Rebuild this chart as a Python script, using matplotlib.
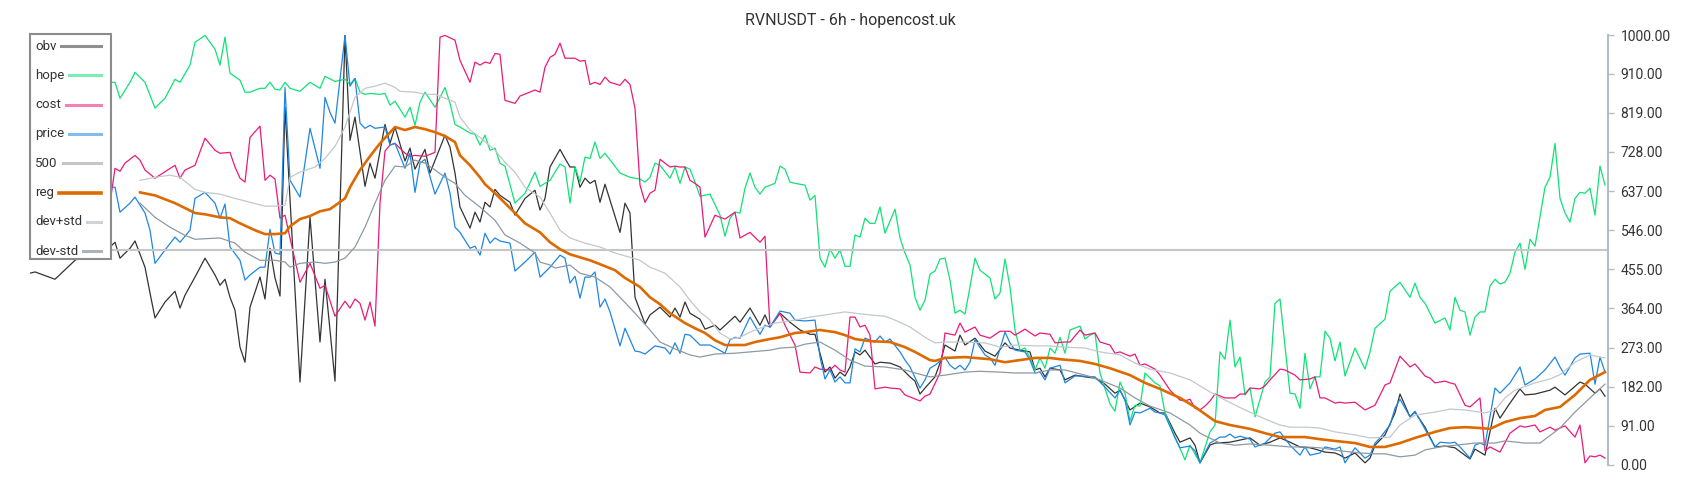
import matplotlib
matplotlib.use("Agg")
import matplotlib.pyplot as plt
from matplotlib.lines import Line2D
from matplotlib.patches import Rectangle

plt.rcParams['font.family'] = ['Roboto', 'DejaVu Sans']

# (candle index, value), 6h candles
obv = [(0,446),(1,449),(5,432),(9,476),(11,490),(13,500),(15,505),(16,507),(17,518),(18,481),(20,504),(21,521),(23,460),(24,400),(25,342),(27,379),(29,404),(30,365),(31,395),(33,437),(35,481),(37,442),(38,418),(39,432),(40,390),(41,360),(42,274),(43,239),(44,367),(46,437),(47,386),(48,504),(49,435),(50,393),(51,832),(54,193),(56,576),(58,286),(59,432),(61,195),(63,999),(64,755),(65,809),(67,648),(68,702),(69,667),(71,792),(72,748),(73,786),(75,707),(76,737),(77,688),(79,734),(80,679),(83,767),(84,739),(85,679),(86,600),(88,551),(89,588),(90,565),(91,611),(92,600),(93,641),(94,627),(96,611),(97,581),(99,620),(101,639),(102,593),(103,620),(104,693),(106,734),(107,713),(108,693),(109,693),(110,646),(111,667),(112,655),(113,662),(114,611),(115,653),(116,616),(118,541),(119,609),(120,586),(121,390),(123,328),(124,349),(126,367),(128,344),(129,365),(130,344),(131,379),(132,353),(134,339),(135,316),(137,325),(138,314),(141,346),(142,332),(144,365),(146,325),(147,349),(148,321),(150,353),(152,332),(154,314),(156,304),(157,304),(159,216),(160,228),(161,202),(162,216),(163,207),(164,228),(165,263),(166,256),(167,267),(169,235),(170,239),(172,237),(174,228),(176,205),(177,195),(178,165),(179,179),(181,205),(182,237),(183,279),(185,265),(186,302),(187,279),(189,295),(191,265),(193,253),(195,284),(196,272),(198,267),(200,263),(201,221),(202,225),(203,205),(204,225),(206,221),(207,198),(209,209),(211,205),(213,202),(215,188),(217,167),(218,174),(220,128),(222,144),(224,135),(226,121),(227,121),(229,74),(230,53),(232,63),(233,46),(234,5),(236,46),(237,51),(240,53),(242,58),(244,63),(246,46),(248,53),(250,63),(252,53),(254,42),(256,40),(257,37),(259,30),(261,28),(262,23),(263,16),(265,28),(267,5),(268,16),(269,46),(271,70),(273,121),(274,165),(276,112),(277,123),(279,88),(281,42),(283,44),(285,40),(288,14),(289,37),(291,23),(293,132),(294,109),(296,144),(298,177),(299,163),(301,165),(304,174),(305,181),(307,163),(310,193),(311,188),(313,167),(314,177),(315,160)]

hope = [(0,880),(3,900),(6,870),(9,905),(12,880),(14,895),(16,890),(17,890),(18,853),(20,890),(21,913),(23,890),(25,830),(27,853),(29,897),(30,890),(32,930),(33,983),(35,999),(37,967),(38,930),(39,995),(40,911),(42,895),(43,867),(44,867),(46,876),(47,876),(48,890),(49,874),(50,872),(51,890),(52,876),(54,869),(56,890),(58,876),(59,904),(61,892),(63,897),(64,885),(65,899),(66,867),(67,862),(68,864),(70,862),(71,864),(72,837),(73,846),(75,809),(76,832),(77,790),(78,844),(79,867),(81,832),(83,878),(84,841),(85,792),(86,786),(88,772),(89,769),(90,744),(91,767),(92,732),(93,737),(94,702),(95,695),(97,609),(99,632),(101,681),(102,648),(103,655),(104,662),(106,700),(107,693),(108,609),(109,693),(110,658),(111,716),(112,713),(113,751),(114,713),(115,725),(118,679),(120,669),(122,665),(123,658),(124,669),(125,702),(126,697),(128,667),(129,693),(130,655),(131,693),(132,688),(133,658),(134,625),(136,630),(138,581),(139,532),(140,574),(141,588),(142,586),(143,644),(144,679),(145,646),(146,630),(147,646),(149,655),(150,695),(151,688),(152,658),(153,655),(155,651),(156,616),(157,627),(158,481),(159,460),(160,502),(161,481),(162,500),(163,462),(164,462),(165,535),(166,530),(167,574),(168,562),(169,562),(170,600),(171,539),(173,595),(174,528),(175,493),(176,465),(177,390),(178,360),(179,383),(180,444),(181,451),(182,479),(183,481),(184,430),(185,353),(186,360),(187,351),(188,414),(189,481),(190,453),(192,435),(193,386),(194,400),(195,479),(196,414),(197,314),(198,267),(199,272),(200,249),(201,221),(202,249),(203,225),(204,272),(205,260),(206,297),(207,260),(208,314),(210,323),(211,293),(212,302),(213,307),(214,214),(216,142),(217,125),(218,193),(219,167),(220,102),(221,139),(222,137),(223,214),(225,191),(226,184),(227,121),(229,65),(231,12),(232,46),(234,5),(236,77),(237,93),(238,263),(239,246),(240,337),(241,228),(242,251),(243,163),(244,179),(245,112),(247,193),(248,205),(249,376),(250,386),(252,167),(253,165),(254,132),(255,260),(256,177),(257,205),(258,205),(259,311),(260,295),(261,242),(262,286),(263,207),(265,272),(267,223),(268,263),(269,318),(271,339),(272,404),(274,425),(276,390),(277,423),(278,390),(279,376),(281,330),(283,342),(284,314),(285,390),(286,360),(287,356),(288,302),(289,344),(290,356),(291,356),(292,416),(293,432),(294,421),(295,425),(296,446),(297,495),(298,516),(299,455),(300,525),(301,509),(303,646),(304,669),(305,748),(306,620),(307,586),(308,565),(309,620),(310,634),(311,632),(312,644),(313,581),(314,695),(315,651)]

cost = [(0,660),(3,690),(6,700),(9,680),(12,720),(14,690),(16,609),(17,690),(18,683),(19,702),(21,720),(22,709),(23,686),(25,667),(29,697),(30,667),(31,686),(33,697),(35,760),(37,732),(38,725),(40,727),(41,693),(42,667),(43,658),(44,762),(46,788),(47,662),(48,674),(49,665),(50,574),(51,581),(52,528),(54,425),(56,469),(58,411),(59,418),(61,346),(63,381),(64,365),(65,386),(66,376),(67,337),(68,379),(69,323),(70,609),(71,730),(72,744),(73,748),(75,725),(76,718),(77,720),(79,718),(81,727),(82,995),(83,999),(85,988),(86,941),(88,890),(89,937),(90,930),(91,937),(92,934),(93,957),(94,955),(95,848),(97,841),(98,858),(101,872),(102,867),(103,925),(104,948),(105,955),(106,981),(107,946),(108,946),(109,946),(110,939),(111,941),(112,885),(113,890),(114,885),(115,902),(116,890),(118,883),(119,897),(120,885),(121,830),(122,651),(123,611),(124,632),(125,639),(126,711),(128,693),(129,695),(130,693),(131,693),(132,662),(133,655),(134,646),(135,530),(137,581),(138,576),(139,572),(141,588),(142,528),(144,541),(146,518),(147,532),(148,321),(149,337),(150,353),(151,325),(153,279),(154,216),(156,214),(157,228),(158,223),(160,221),(161,232),(162,221),(163,216),(164,344),(165,344),(166,321),(167,325),(168,302),(169,177),(171,181),(172,179),(174,177),(175,163),(178,149),(179,160),(180,165),(182,214),(183,307),(185,302),(186,330),(187,309),(189,321),(190,302),(192,295),(194,311),(196,311),(197,302),(199,316),(201,300),(202,307),(204,304),(205,284),(207,286),(208,286),(210,314),(211,302),(213,307),(214,286),(216,279),(217,260),(218,263),(220,253),(221,258),(222,232),(223,235),(225,223),(226,209),(228,174),(230,151),(231,149),(232,153),(233,132),(234,128),(235,137),(236,149),(237,165),(239,156),(241,156),(242,165),(243,165),(244,179),(246,177),(247,184),(248,198),(250,223),(251,221),(253,209),(254,198),(256,200),(257,205),(258,156),(259,156),(261,144),(262,146),(263,144),(265,146),(267,128),(269,139),(271,186),(272,191),(274,253),(276,228),(277,235),(279,207),(280,202),(281,191),(283,195),(284,191),(285,188),(287,139),(288,135),(290,156),(291,33),(292,42),(294,30),(296,74),(298,91),(299,88),(301,93),(302,77),(304,88),(305,81),(307,91),(309,65),(310,93),(311,5),(312,21),(313,19),(314,23),(315,16)]

price = [(0,640),(3,610),(6,650),(9,600),(12,630),(14,660),(16,646),(17,646),(18,588),(20,609),(21,623),(23,586),(24,546),(25,469),(27,500),(29,530),(30,518),(32,546),(33,620),(35,634),(37,609),(38,574),(39,607),(40,507),(42,476),(43,430),(44,442),(46,460),(47,460),(48,548),(49,493),(50,490),(51,878),(52,662),(54,623),(56,783),(58,690),(59,855),(60,820),(61,795),(63,999),(64,881),(65,899),(66,795),(67,783),(68,790),(69,783),(71,786),(72,744),(73,748),(75,690),(76,725),(77,634),(78,702),(79,711),(81,630),(83,679),(84,632),(85,553),(86,541),(88,504),(89,509),(90,488),(91,539),(92,516),(93,528),(94,521),(96,516),(97,451),(99,472),(101,495),(102,437),(104,460),(106,488),(107,481),(108,423),(109,439),(110,388),(111,437),(112,437),(113,449),(114,367),(115,386),(116,356),(118,277),(119,318),(121,265),(122,263),(123,258),(125,277),(127,272),(128,258),(129,284),(130,260),(131,304),(132,302),(134,279),(136,279),(139,260),(140,291),(141,297),(142,295),(144,344),(146,304),(147,325),(148,321),(150,358),(152,353),(153,337),(155,335),(157,337),(158,251),(159,200),(160,221),(161,193),(162,205),(163,191),(164,191),(165,270),(166,263),(167,295),(169,286),(170,300),(171,286),(172,293),(174,263),(175,244),(176,228),(178,179),(179,198),(180,225),(181,232),(183,251),(184,232),(185,223),(186,232),(187,221),(188,239),(189,291),(191,256),(192,249),(193,232),(195,309),(196,284),(197,267),(199,263),(200,244),(201,214),(202,216),(203,198),(204,225),(206,232),(207,191),(209,207),(210,207),(213,205),(215,181),(217,156),(218,174),(219,151),(220,93),(221,123),(222,121),(224,132),(225,123),(226,121),(227,116),(229,63),(230,40),(232,44),(233,33),(234,5),(236,51),(238,65),(239,65),(240,72),(241,63),(242,67),(244,60),(245,42),(247,51),(249,74),(250,77),(252,46),(254,23),(255,42),(256,23),(258,28),(259,42),(261,37),(262,42),(263,5),(265,40),(267,16),(268,23),(269,51),(270,63),(272,93),(273,132),(274,153),(276,112),(277,125),(281,42),(282,53),(284,51),(285,53),(286,42),(288,16),(289,46),(290,51),(291,46),(293,179),(294,167),(296,191),(298,228),(299,186),(301,200),(303,221),(305,251),(306,228),(307,209),(309,249),(310,258),(312,260),(313,188),(314,251),(315,216)]

level_500 = 500

reg = [(22,634),(25,627),(29,609),(33,586),(35,583),(38,576),(40,574),(42,562),(45,546),(47,537),(49,537),(51,539),(52,555),(54,572),(56,579),(58,590),(60,595),(63,620),(64,646),(66,686),(68,718),(70,748),(73,786),(75,779),(77,786),(79,781),(81,774),(83,765),(85,751),(86,720),(88,697),(90,669),(91,653),(93,632),(95,609),(97,586),(99,562),(102,541),(104,518),(106,502),(108,490),(112,476),(114,467),(117,453),(119,435),(122,414),(124,390),(126,374),(128,353),(131,330),(133,318),(135,307),(137,290),(139,279),(143,279),(145,286),(148,293),(150,297),(153,307),(155,309),(158,314),(161,309),(163,302),(165,293),(168,288),(172,286),(175,274),(177,263),(180,244),(181,242),(183,249),(187,251),(189,249),(192,246),(195,239),(198,244),(201,249),(204,249),(206,246),(210,242),(213,235),(216,225),(220,209),(223,191),(226,177),(230,156),(233,135),(237,102),(240,93),(244,84),(247,74),(250,65),(252,65),(255,65),(258,60),(261,56),(265,51),(268,42),(271,42),(274,51),(277,63),(281,77),(284,86),(287,88),(290,86),(292,84),(295,100),(298,109),(301,114),(303,128),(306,135),(309,163),(312,198),(315,216)]

dev_plus = [(22,662),(25,669),(28,674),(30,669),(33,641),(35,634),(38,630),(41,620),(43,614),(47,602),(49,602),(51,604),(52,669),(54,681),(57,693),(59,713),(61,741),(63,786),(65,855),(67,876),(69,881),(71,888),(73,878),(74,869),(77,867),(79,862),(81,862),(83,853),(85,844),(86,809),(88,779),(90,762),(93,732),(95,704),(97,681),(99,646),(102,623),(104,586),(106,546),(108,528),(111,516),(114,507),(117,493),(120,483),(122,476),(124,460),(127,446),(130,414),(132,383),(134,356),(136,337),(138,307),(140,293),(142,297),(144,309),(146,318),(149,330),(153,337),(156,344),(159,349),(163,356),(165,353),(168,349),(171,346),(173,337),(176,321),(179,297),(181,284),(183,286),(187,286),(191,284),(194,274),(197,279),(201,277),(204,277),(207,274),(211,272),(214,263),(218,256),(221,237),(224,223),(228,214),(232,198),(236,170),(239,151),(243,128),(247,107),(250,93),(252,88),(255,88),(258,86),(261,77),(265,70),(268,63),(272,65),(274,93),(277,116),(281,123),(284,130),(287,128),(291,121),(293,128),(295,156),(297,174),(301,191),(304,200),(306,210),(309,239),(312,256),(314,251),(315,249)]

dev_minus = [(22,609),(25,576),(28,553),(31,534),(33,525),(38,528),(41,516),(43,495),(46,476),(49,476),(51,472),(52,460),(54,469),(57,472),(59,469),(61,472),(63,481),(65,507),(67,553),(69,609),(71,662),(73,695),(75,693),(77,709),(79,702),(81,686),(83,669),(85,655),(87,627),(90,600),(93,569),(95,535),(98,516),(101,493),(102,472),(104,465),(105,458),(108,465),(110,446),(113,437),(116,414),(118,390),(121,353),(124,314),(126,286),(129,270),(132,256),(134,251),(137,258),(141,260),(144,263),(148,267),(150,272),(153,274),(155,281),(158,286),(161,267),(164,244),(167,230),(171,228),(175,221),(177,214),(180,205),(183,209),(187,216),(190,218),(194,216),(197,214),(201,214),(204,221),(207,221),(211,209),(214,198),(218,179),(221,156),(224,137),(228,121),(232,93),(234,74),(238,51),(241,46),(244,49),(248,46),(252,42),(255,42),(258,40),(262,33),(266,28),(269,26),(271,26),(274,19),(277,23),(279,35),(282,42),(285,46),(289,51),(293,51),(295,56),(299,51),(302,51),(306,86),(309,123),(312,156),(315,188)]

y_ticks = [0, 91, 182, 273, 364, 455, 546, 637, 728, 819, 910, 1000]

W, H = 1700, 500
fig = plt.figure(figsize=(W / 100, H / 100), dpi=100)
ax = fig.add_axes([30 / W, 35 / H, 1578 / W, 430 / H])

series = [
    ('obv', obv, '#333333', 0.9),
    ('hope', hope, '#0fe275', 0.9),
    ('cost', cost, '#ea1a78', 0.9),
    ('price', price, '#1e86e3', 0.9),
]
for name, pts, col, lw in series:
    t, v = zip(*pts)
    ax.plot(t, v, color=col, lw=lw)

ax.axhline(level_500, color='#c6c6c6', lw=1.5)
t, v = zip(*reg)
ax.plot(t, v, color='#dd6a00', lw=1.9)
t, v = zip(*dev_plus)
ax.plot(t, v, color='#c3c8cc', lw=0.9)
t, v = zip(*dev_minus)
ax.plot(t, v, color='#8d9aa3', lw=0.9)

ax.set_xlim(0, 315.6)
ax.set_ylim(0, 1000)
ax.set_xticks([])
ax.set_yticks(y_ticks)
ax.set_yticklabels([f"{y:.2f}" for y in y_ticks])
ax.yaxis.tick_right()
for s in ['left', 'top', 'bottom']:
    ax.spines[s].set_visible(False)
ax.spines['right'].set_color('#b3bdc4')
ax.spines['right'].set_linewidth(1.5)
ax.tick_params(axis='y', direction='out', length=4, width=1, color='#b3bdc4',
               labelsize=10, labelcolor='#333333', pad=5)

fig.text(0.5, 1 - 20 / H, 'RVNUSDT - 6h - hopencost.uk', ha='center', va='center',
         fontsize=11.5, color='#333333')

# legend: label on the left, swatch stretched to the right edge
fig.add_artist(Rectangle((30 / W, 1 - 259 / H), 81 / W, 225 / H, transform=fig.transFigure,
                         facecolor='white', edgecolor='#8c8c8c', lw=1.5, zorder=10))
legend_items = [
    ('obv', '#333333', 2.2, 0.55),
    ('hope', '#0fe275', 2.2, 0.55),
    ('cost', '#ea1a78', 2.2, 0.55),
    ('price', '#1e86e3', 2.2, 0.55),
    ('500', '#c6c6c6', 2.2, 1.0),
    ('reg', '#dd6a00', 2.6, 1.0),
    ('dev+std', '#c3c8cc', 2.2, 0.8),
    ('dev-std', '#8d9aa3', 2.2, 0.75),
]
renderer = fig.canvas.get_renderer()
for i, (name, col, lw, a) in enumerate(legend_items):
    y = 1 - (46 + i * 29.3) / H
    txt = fig.text(35 / W, y, name, ha='left', va='center', fontsize=9.5,
                   color='#333333', zorder=11)
    ext = txt.get_window_extent(renderer=renderer)
    fig.add_artist(Line2D([(ext.x1 + 5) / W, 101 / W], [y, y], transform=fig.transFigure,
                          color=col, lw=lw, alpha=a, zorder=11))

fig.savefig('out.png', dpi=100)
